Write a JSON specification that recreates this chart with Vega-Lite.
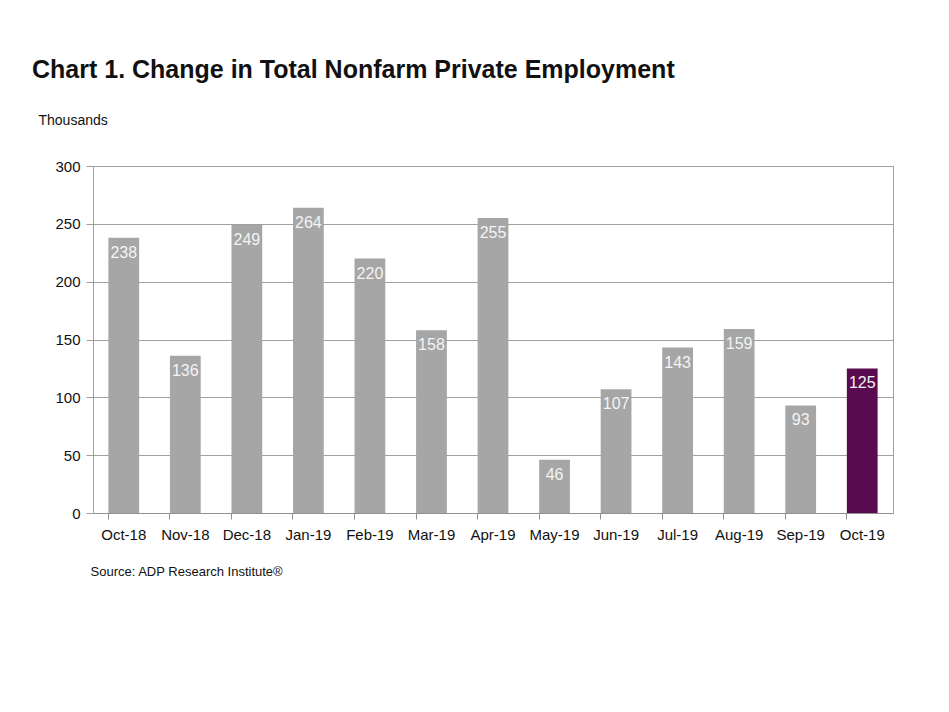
{
  "$schema": "https://vega.github.io/schema/vega-lite/v6.json",
  "width": 800,
  "height": 347,
  "autosize": {"type": "none"},
  "padding": {"left": 93, "top": 166, "right": 56, "bottom": 199},
  "background": "white",
  "config": {
    "font": "Liberation Sans",
    "view": {"stroke": "#a0a0a0", "strokeWidth": 1}
  },
  "title": {
    "text": "Chart 1. Change in Total Nonfarm Private Employment",
    "anchor": "start",
    "frame": "group",
    "dx": -61,
    "offset": 10,
    "baseline": "alphabetic",
    "fontSize": 25,
    "fontWeight": "bold",
    "color": "#111111"
  },
  "data": {
    "values": [
      {"month": "Oct-18", "value": 238, "current": "no"},
      {"month": "Nov-18", "value": 136, "current": "no"},
      {"month": "Dec-18", "value": 249, "current": "no"},
      {"month": "Jan-19", "value": 264, "current": "no"},
      {"month": "Feb-19", "value": 220, "current": "no"},
      {"month": "Mar-19", "value": 158, "current": "no"},
      {"month": "Apr-19", "value": 255, "current": "no"},
      {"month": "May-19", "value": 46, "current": "no"},
      {"month": "Jun-19", "value": 107, "current": "no"},
      {"month": "Jul-19", "value": 143, "current": "no"},
      {"month": "Aug-19", "value": 159, "current": "no"},
      {"month": "Sep-19", "value": 93, "current": "no"},
      {"month": "Oct-19", "value": 125, "current": "yes"}
    ]
  },
  "layer": [
    {
      "mark": {"type": "bar"},
      "encoding": {
        "x": {
          "field": "month", "type": "nominal", "sort": null,
          "scale": {"paddingInner": 0.5, "paddingOuter": 0.25},
          "axis": {
            "labelAngle": 0, "labelFontSize": 15, "labelColor": "#111111",
            "labelPadding": 14, "ticks": false, "domain": false, "grid": false,
            "title": "Source: ADP Research Institute®",
            "titleFontSize": 13, "titleFontWeight": "normal", "titleColor": "#111111",
            "titleAnchor": "start", "titleAlign": "left", "titleX": -3, "titleY": 62,
            "titleBaseline": "alphabetic"
          }
        },
        "y": {
          "field": "value", "type": "quantitative",
          "scale": {"domain": [0, 300]},
          "axis": {
            "values": [0, 50, 100, 150, 200, 250, 300],
            "labelFontSize": 15, "labelColor": "#111111", "labelPadding": 6,
            "tickSize": 7, "tickColor": "#a0a0a0", "domainColor": "#a0a0a0",
            "gridColor": "#a0a0a0", "gridOpacity": 1,
            "title": "Thousands", "titleAngle": 0, "titleFontSize": 14,
            "titleFontWeight": "normal", "titleColor": "#111111",
            "titleAlign": "left", "titleBaseline": "alphabetic",
            "titleX": -55, "titleY": -42
          }
        },
        "color": {
          "field": "current", "type": "nominal",
          "scale": {"domain": ["no", "yes"], "range": ["#a6a6a6", "#5a0a4e"]},
          "legend": null
        }
      }
    },
    {
      "mark": {"type": "text", "baseline": "middle", "dy": 15, "fontSize": 16, "color": "#f4f4f4"},
      "encoding": {
        "x": {
          "field": "month", "type": "nominal", "sort": null,
          "axis": {
            "bandPosition": 0, "labels": false, "title": null, "grid": false,
            "ticks": true, "tickSize": 6, "tickColor": "#909090",
            "domain": true, "domainColor": "#909090", "orient": "bottom"
          }
        },
        "y": {"field": "value", "type": "quantitative"},
        "text": {"field": "value", "type": "quantitative"}
      }
    }
  ],
  "resolve": {"axis": {"x": "independent"}}
}
